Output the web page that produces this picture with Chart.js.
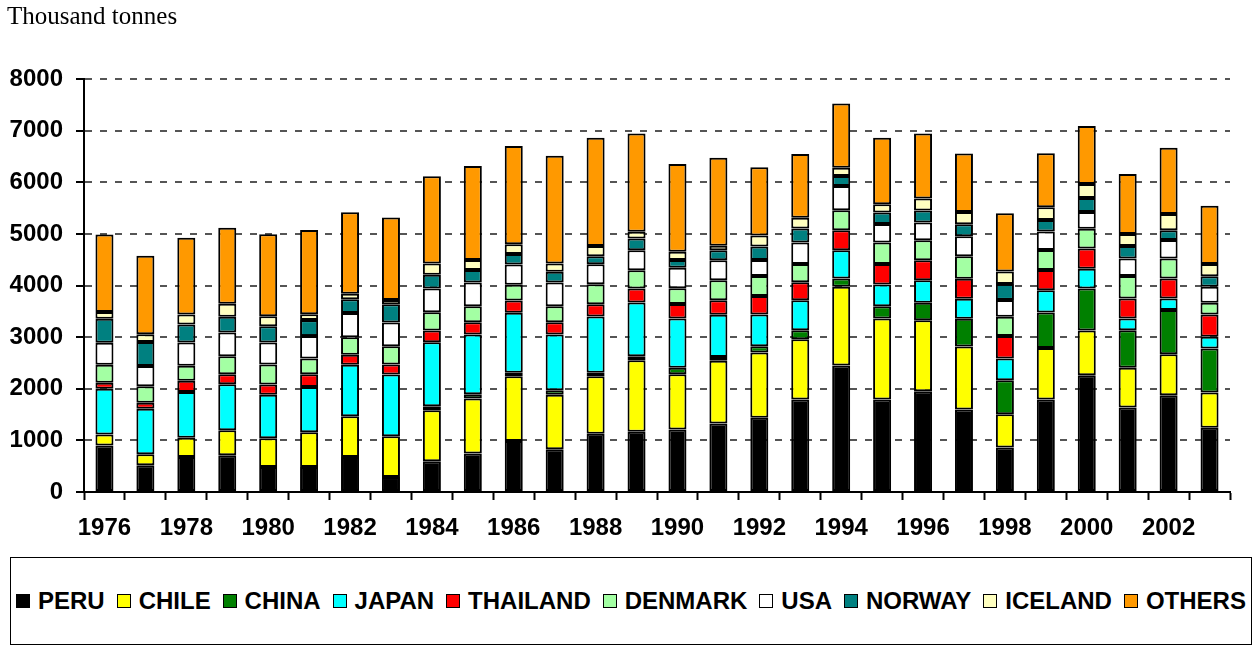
<!DOCTYPE html>
<html>
<head>
<meta charset="utf-8">
<script src="https://cdn.jsdelivr.net/npm/chart.js@4.4.1/dist/chart.umd.min.js"></script>
<style>
  html,body{margin:0;padding:0;background:#fff;}
  #wrap{position:relative;width:1254px;height:646px;overflow:hidden;}
  #ytitle{position:absolute;left:7px;top:3px;font:25px/25px "Liberation Serif","Times New Roman",serif;color:#000;}
  #c{position:absolute;left:0;top:0;}
  #legend{position:absolute;left:10px;top:557px;width:1240px;height:86px;border:1.5px solid #000;box-sizing:content-box;}
  #legend .row{position:absolute;left:5px;width:1230px;top:0;height:86px;display:flex;justify-content:space-between;align-items:center;}
  #legend .it{display:flex;align-items:center;font:bold 24px "Liberation Sans",Arial,sans-serif;color:#000;white-space:nowrap;}
  #legend .bx{width:12px;height:12px;border:1.5px solid #000;margin-right:8px;}
</style>
</head>
<body>
<div id="wrap">
  <canvas id="c" width="1254" height="550"></canvas>
  <div id="ytitle">Thousand tonnes</div>
  <div id="legend"><div class="row" id="legrow"></div></div>
</div>
<script>
const years=['1976','1977','1978','1979','1980','1981','1982','1983','1984','1985','1986','1987','1988','1989','1990','1991','1992','1993','1994','1995','1996','1997','1998','1999','2000','2001','2002','2003'];
const peru    =[900,517,680,710,485,485,680,290,595,745,990,830,1130,1165,1210,1325,1440,1790,2450,1790,1950,1600,860,1790,2260,1635,1875,1245];
const chile   =[215,213,370,485,555,670,785,790,990,1065,1250,1055,1110,1385,1070,1215,1260,1170,1525,1570,1375,1220,645,1000,870,770,795,680];
const china   =[0,0,0,0,0,0,0,0,75,85,70,85,70,80,125,75,125,175,160,240,340,535,660,685,810,730,855,855];
const japan   =[885,885,885,890,845,880,1000,1195,1240,1155,1160,1080,1090,1040,955,820,615,580,550,420,435,390,420,435,385,225,225,225];
const thailand=[115,116,220,195,195,245,195,195,230,240,240,240,235,270,280,280,355,350,385,395,390,385,435,390,390,390,385,435];
const denmark =[350,317,290,350,390,305,340,355,350,310,305,310,390,355,305,385,390,350,390,420,385,435,375,390,385,435,390,225];
const usa     =[425,394,450,460,425,435,465,460,460,460,390,460,385,390,400,390,310,420,465,355,345,390,325,355,325,340,355,310];
const norway  =[465,465,350,305,315,310,270,350,270,240,205,205,155,225,150,195,260,270,195,225,235,230,310,225,270,240,190,205];
const iceland =[130,149,195,250,195,115,105,85,215,195,190,160,200,130,160,85,215,205,160,160,230,240,240,245,270,235,315,235];
const others  =[1505,1518,1485,1475,1590,1630,1580,1595,1690,1820,1900,2090,2095,1905,1700,1705,1320,1235,1245,1285,1260,1130,1130,1045,1125,1160,1285,1130];
const yTicks=[0,1000,2000,3000,4000,5000,6000,7000,8000];

const series=[
  {l:'PERU',d:peru,c:'#000000'},
  {l:'CHILE',d:chile,c:'#ffff00'},
  {l:'CHINA',d:china,c:'#008000'},
  {l:'JAPAN',d:japan,c:'#00ffff'},
  {l:'THAILAND',d:thailand,c:'#ff0000'},
  {l:'DENMARK',d:denmark,c:'#a3ffa3'},
  {l:'USA',d:usa,c:'#ffffff'},
  {l:'NORWAY',d:norway,c:'#008080'},
  {l:'ICELAND',d:iceland,c:'#ffffc0'},
  {l:'OTHERS',d:others,c:'#ff9900'},
];

const FONT='"Liberation Sans",Arial,sans-serif';

new Chart(document.getElementById('c'),{
  type:'bar',
  data:{labels:years,datasets:series.map(s=>({label:s.l,data:s.d,backgroundColor:s.c,borderColor:'#000',borderWidth:2,borderSkipped:false,barPercentage:0.44,categoryPercentage:1}))},
  options:{
    responsive:false,animation:false,
    layout:{padding:{top:79,left:6,right:24,bottom:0}},
    plugins:{legend:{display:false},tooltip:{enabled:false}},
    scales:{
      x:{stacked:true,
        afterFit:s=>{s.height=58;},
        grid:{drawOnChartArea:false,drawTicks:true,tickLength:8,tickColor:'#000',tickWidth:2,offset:true},
        border:{color:'#000',width:2},
        ticks:{autoSkip:false,maxRotation:0,padding:14,color:'#000',font:{family:FONT,size:24,weight:'bold'},
          callback:function(v,i){const y=this.getLabelForValue(v);return (+y)%2===0?y:'';}}
      },
      y:{stacked:true,min:0,max:8000,
        afterFit:s=>{s.width=78;},
        afterBuildTicks:s=>{s.ticks=yTicks.map(v=>({value:v}));},
        grid:{color:'#555',lineWidth:2,tickLength:8,tickColor:'#000',tickWidth:2,tickBorderDash:[]},
        border:{color:'#000',width:2,dash:[7,8]},
        ticks:{padding:13,color:'#000',font:{family:FONT,size:24,weight:'bold'},callback:v=>String(v)}
      }
    }
  }
});

document.getElementById('legrow').innerHTML=series.map(s=>`<div class="it"><span class="bx" style="background:${s.c}"></span>${s.l}</div>`).join('');
</script>
</body>
</html>
